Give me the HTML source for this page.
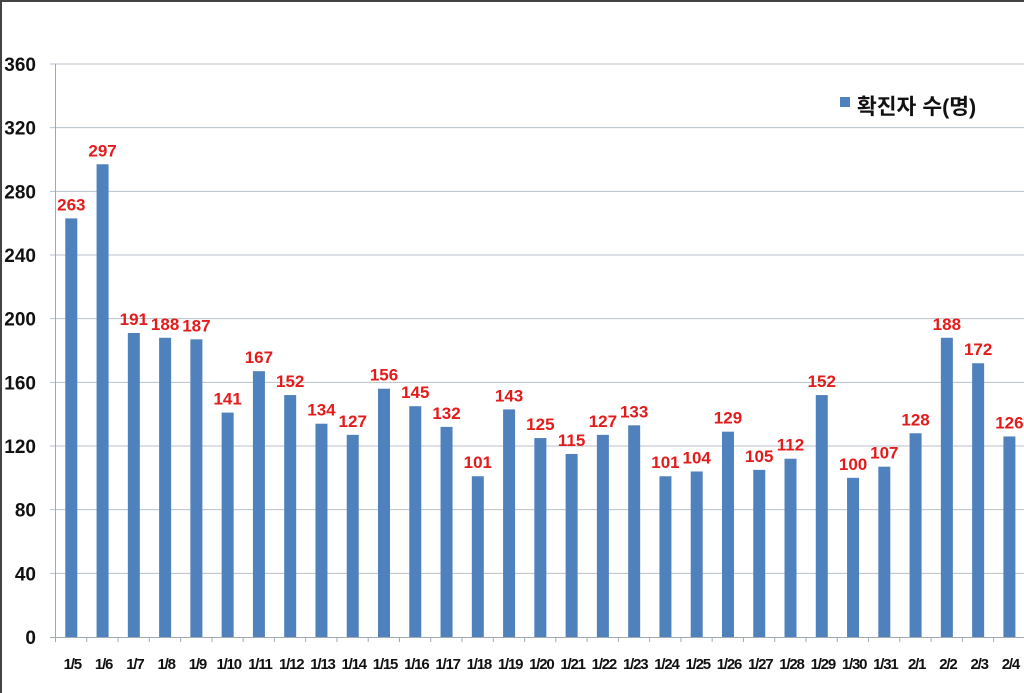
<!DOCTYPE html>
<html><head><meta charset="utf-8"><style>
html,body{margin:0;padding:0;background:#fff}
svg{display:block}
</style></head><body>
<svg width="1024" height="693" xmlns="http://www.w3.org/2000/svg" font-family="Liberation Sans, sans-serif">
<rect x="0" y="0" width="1024" height="693" fill="#fff"/>
<line x1="0" y1="1" x2="1024" y2="1" stroke="#444" stroke-width="2"/>
<line x1="1" y1="0" x2="1" y2="693" stroke="#444" stroke-width="2"/>
<g id="grid"></g>
<g id="bars"></g>
<g id="labels"></g>
<rect x="840" y="97" width="10" height="10" fill="#4f81bd"/>
<text x="857" y="114" font-size="21.5" font-weight="bold" font-family="Liberation Sans, Noto Sans CJK KR, sans-serif" fill="#111">확진자 수(명)</text>
</svg>
<script>
var ns="http://www.w3.org/2000/svg";
function el(p,t,a,txt){var e=document.createElementNS(ns,t);for(var k in a)e.setAttribute(k,a[k]);if(txt!=null)e.textContent=txt;document.getElementById(p).appendChild(e);}
var y0=637,s=573/360;
for(var v=0;v<=360;v+=40){var y=y0-v*s;
 if(v>0)el("grid","line",{x1:50,y1:y,x2:1024,y2:y,stroke:"#b8c2cc","stroke-width":1});
 el("labels","text",{x:36,y:y+7,"font-size":19,"font-weight":"bold","text-anchor":"end",fill:"#111"},v);}
el("grid","line",{x1:55.5,y1:64,x2:55.5,y2:y0,stroke:"#a0a8b0"});
el("grid","line",{x1:50,y1:y0+0.5,x2:1024,y2:y0+0.5,stroke:"#a0a8b0"});
var d=[263,297,191,188,187,141,167,152,134,127,156,145,132,101,143,125,115,127,133,101,104,129,105,112,152,100,107,128,188,172,126];
var lab=["1/5","1/6","1/7","1/8","1/9","1/10","1/11","1/12","1/13","1/14","1/15","1/16","1/17","1/18","1/19","1/20","1/21","1/22","1/23","1/24","1/25","1/26","1/27","1/28","1/29","1/30","1/31","2/1","2/2","2/3","2/4"];
var w=31.27;
for(var i=0;i<d.length;i++){var cx=71.3+i*w,h=d[i]*s;
 el("bars","rect",{x:cx-6,y:y0-h,width:12,height:h,fill:"#4f81bd"});
 el("grid","line",{x1:55.5+i*w,y1:y0,x2:55.5+i*w,y2:y0+5,stroke:"#a0a8b0"});
 el("labels","text",{x:cx,y:y0-h-8,"font-size":17,"font-weight":"bold","text-anchor":"middle",fill:"#e31b1b"},d[i]);
 el("labels","text",{x:cx+1,y:669,"font-size":15,"font-weight":"bold","text-anchor":"middle",fill:"#111","letter-spacing":"-1.2"},lab[i]);}
</script>
</body></html>
